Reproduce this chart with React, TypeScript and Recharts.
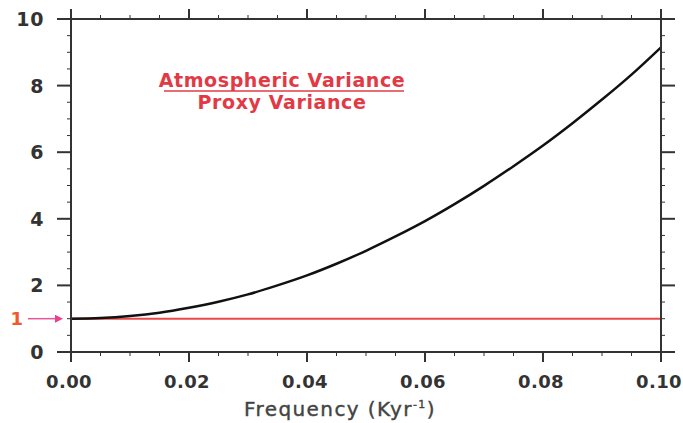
import { LineChart, Line, XAxis, YAxis, ReferenceLine, Customized } from 'recharts';

// frequency in Kyr^-1, ratio of atmospheric to proxy variance
const FREQUENCY = [0, 0.005, 0.01, 0.015, 0.02, 0.025, 0.03, 0.035, 0.04, 0.045, 0.05, 0.055, 0.06, 0.065, 0.07, 0.075, 0.08, 0.085, 0.09, 0.095, 0.1];
const VARIANCE_RATIO = [1.0, 1.02, 1.08, 1.18, 1.33, 1.51, 1.73, 2.0, 2.3, 2.65, 3.04, 3.47, 3.93, 4.44, 4.99, 5.58, 6.2, 6.87, 7.58, 8.33, 9.15];
const BASELINE = 1;

const X_TICKS = FREQUENCY;
const X_LABELS = ['0.00', '0.02', '0.04', '0.06', '0.08', '0.10'];
const Y_TICKS = [0, 0.5, 1, 1.5, 2, 2.5, 3, 3.5, 4, 4.5, 5, 5.5, 6, 6.5, 7, 7.5, 8, 8.5, 9, 9.5, 10];
const Y_LABELS = ['0', '2', '4', '6', '8', '10'];

const data = FREQUENCY.map((f, i) => ({ f, ratio: VARIANCE_RATIO[i], base: BASELINE }));

const AXIS = '#333';
const FONT = '"DejaVu Sans", sans-serif';

const xLabel = (v: number) => X_LABELS.find(l => Math.abs(parseFloat(l) - v) < 1e-9);
const yLabel = (v: number) => Y_LABELS.find(l => Math.abs(parseFloat(l) - v) < 1e-9);

function BottomTick({ x, y, payload }: any) {
  const label = xLabel(payload.value);
  return (
    <g>
      <line x1={x} y1={y} x2={x} y2={y + (label ? 10 : 4)} stroke={AXIS} strokeWidth={label ? 2 : 1} />
      {label && (
        <text x={x - 2} y={y + 36} textAnchor="middle" fontFamily={FONT} fontWeight="bold" fontSize={18} letterSpacing={0.4} fill="#333">
          {label}
        </text>
      )}
    </g>
  );
}

function TopTick({ x, y, payload }: any) {
  const major = xLabel(payload.value);
  return <line x1={x} y1={y} x2={x} y2={y - (major ? 10 : 4)} stroke={AXIS} strokeWidth={major ? 2 : 1} />;
}

function LeftTick({ x, y, payload }: any) {
  const label = yLabel(payload.value);
  return (
    <g>
      <line x1={x} y1={y} x2={x - (label ? 14 : 4)} y2={y} stroke={AXIS} strokeWidth={label ? 2 : 1} />
      {label && (
        <text x={x - 27} y={y + 7} textAnchor="end" fontFamily={FONT} fontWeight="bold" fontSize={19} letterSpacing={0.6} fill="#333">
          {label}
        </text>
      )}
    </g>
  );
}

function RightTick({ x, y, payload }: any) {
  const major = yLabel(payload.value);
  return <line x1={x} y1={y} x2={x + (major ? 14 : 4)} y2={y} stroke={AXIS} strokeWidth={major ? 2 : 1} />;
}

function OneMarker({ viewBox }: any) {
  const x = viewBox.x;
  const y = viewBox.y;
  return (
    <g>
      <text x={x - 48} y={y + 6} textAnchor="end" fontFamily={FONT} fontWeight="bold" fontSize={18} fill="#f05a28">1</text>
      <line x1={x - 43} y1={y} x2={x - 14} y2={y} stroke="#e8559a" strokeWidth={1.5} />
      <polygon points={`${x - 8},${y} ${x - 16},${y - 4} ${x - 16},${y + 4}`} fill="#e8408a" />
    </g>
  );
}

function Titles() {
  return (
    <g fontFamily={FONT}>
      <text x={282} y={87} textAnchor="middle" fontSize={19} fontWeight="bold" letterSpacing={0.6} fill="#e23a45">Atmospheric Variance</text>
      <line x1={164} y1={91} x2={404} y2={91} stroke="#e23a45" strokeWidth={1.5} />
      <text x={282} y={109} textAnchor="middle" fontSize={19} fontWeight="bold" letterSpacing={0.6} fill="#e23a45">Proxy Variance</text>
      <text x={340} y={416} textAnchor="middle" fontSize={20} letterSpacing={1.4} fill="#444" stroke="#444" strokeWidth={0.4}>
        Frequency (Kyr<tspan dy={-8} fontSize={11}>-1</tspan><tspan dy={8}>)</tspan>
      </text>
    </g>
  );
}

export default function App() {
  return (
    <div style={{ position: 'absolute', left: 0, top: 0, background: '#fff' }}>
      <LineChart width={683} height={423} data={data} margin={{ top: 18, right: 21, left: 0, bottom: 0 }}>
        <XAxis
          dataKey="f"
          type="number"
          domain={[0, 0.1]}
          ticks={X_TICKS}
          interval={0}
          height={71}
          tickSize={0}
          tickMargin={0}
          tick={<BottomTick />}
          axisLine={{ stroke: AXIS, strokeWidth: 2 }}
          tickLine={false}
        />
        <XAxis
          xAxisId="top"
          dataKey="f"
          orientation="top"
          type="number"
          domain={[0, 0.1]}
          allowDataOverflow
          ticks={X_TICKS}
          interval={0}
          height={1}
          tickSize={0}
          tickMargin={0}
          tick={<TopTick />}
          axisLine={{ stroke: AXIS, strokeWidth: 2 }}
          tickLine={false}
        />
        <YAxis
          type="number"
          domain={[0, 10]}
          ticks={Y_TICKS}
          interval={0}
          width={71}
          tickSize={0}
          tickMargin={0}
          tick={<LeftTick />}
          axisLine={{ stroke: AXIS, strokeWidth: 2 }}
          tickLine={false}
        />
        <YAxis
          yAxisId="right"
          orientation="right"
          type="number"
          domain={[0, 10]}
          allowDataOverflow
          ticks={Y_TICKS}
          interval={0}
          width={1}
          tickSize={0}
          tickMargin={0}
          tick={<RightTick />}
          axisLine={{ stroke: AXIS, strokeWidth: 2 }}
          tickLine={false}
        />
        <Line
          xAxisId="top"
          yAxisId="right"
          dataKey="base"
          type="linear"
          stroke="#e84a4a"
          strokeWidth={2}
          dot={false}
          isAnimationActive={false}
        />
        <ReferenceLine
          y={BASELINE}
          stroke="none"
          label={{ content: (props: any) => <OneMarker {...props} /> }}
        />
        <Line
          dataKey="ratio"
          type="monotone"
          stroke="#111"
          strokeWidth={2.5}
          dot={false}
          isAnimationActive={false}
        />
        <Customized component={<Titles />} />
      </LineChart>
    </div>
  );
}
